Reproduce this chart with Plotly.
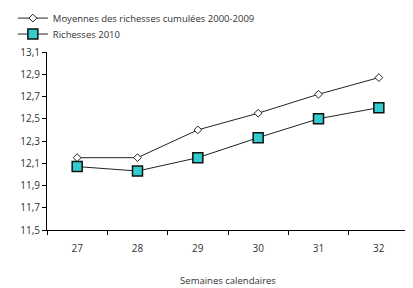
import plotly.graph_objects as go

weeks = ["27", "28", "29", "30", "31", "32"]
moyennes_2000_2009 = [12.15, 12.15, 12.40, 12.55, 12.72, 12.87]
richesses_2010 = [12.07, 12.03, 12.15, 12.33, 12.50, 12.60]
y_ticks = [11.5, 11.7, 11.9, 12.1, 12.3, 12.5, 12.7, 12.9, 13.1]

font_family = "Open Sans, DejaVu Sans, sans-serif"

fig = go.Figure()
fig.add_trace(go.Scatter(
    x=weeks, y=moyennes_2000_2009, mode="lines+markers",
    name="Moyennes des richesses cumulées 2000-2009",
    line=dict(color="#222222", width=1),
    marker=dict(symbol="diamond", size=6, color="white",
                line=dict(color="#222222", width=1)),
    legend="legend",
))
fig.add_trace(go.Scatter(
    x=weeks, y=richesses_2010, mode="lines+markers",
    name="Richesses 2010",
    line=dict(color="#222222", width=1),
    marker=dict(symbol="square", size=10, color="#33CCCC",
                line=dict(color="#111111", width=1.5)),
    legend="legend2",
))

leg_common = dict(xref="container", yref="container", xanchor="left",
                  yanchor="middle", bgcolor="rgba(0,0,0,0)",
                  font=dict(size=9.5, color="#333333"), itemwidth=30)

fig.update_layout(
    width=405, height=280,
    margin=dict(l=39, r=4, t=44, b=57.5, autoexpand=False),
    paper_bgcolor="white", plot_bgcolor="white",
    separators=", ",
    font=dict(family=font_family, size=10, color="#333333"),
    showlegend=True,
    legend=dict(x=0.012, y=0.964, **leg_common),
    legend2=dict(x=0.012, y=0.907, **leg_common),
    xaxis=dict(
        type="category", showgrid=False, showline=True, linecolor="black",
        linewidth=1, ticks="outside", tickson="boundaries", ticklen=4,
        tickcolor="black", range=[-0.5, 5.5], automargin=False,
        ticklabelstandoff=9,
        title=dict(text="Semaines calendaires", font=dict(size=9.5), standoff=23),
    ),
    yaxis=dict(
        range=[11.5, 13.1], tickvals=y_ticks, tickformat=".1f", automargin=False,
        showgrid=False, showline=True, linecolor="black", linewidth=1,
        ticks="outside", ticklen=4, tickcolor="black", zeroline=False,
    ),
)

fig.write_html("out.html")
